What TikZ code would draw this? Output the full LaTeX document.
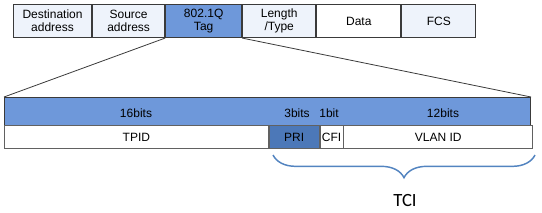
\documentclass[tikz,border=0pt]{standalone}
\usepackage{fontspec}
\setmainfont{Liberation Sans}
\newfontfamily\tcifont{Carlito}
\usetikzlibrary{positioning}
\usetikzlibrary{decorations.pathreplacing}
\definecolor{paleblue}{HTML}{EEF3FB}
\definecolor{tagblue}{HTML}{6E98DA}
\definecolor{pridark}{HTML}{4C78B8}
\definecolor{bracecol}{HTML}{5384C0}
\definecolor{edgegray}{HTML}{3A3A3A}

\tikzset{
  field/.style={draw=edgegray, line width=0.8pt, minimum height=24.75pt, inner sep=0pt,
    align=center, font=\fontsize{9}{10}\selectfont},
  subfield/.style={draw=edgegray!80, line width=0.6pt, minimum height=17.25pt, inner sep=0pt,
    font=\fontsize{9}{10}\selectfont},
  bitlabel/.style={font=\fontsize{9}{10}\selectfont, inner sep=0pt}
}

\begin{document}
\begin{tikzpicture}[x=0.75pt, y=-0.75pt]
    \useasboundingbox (0,0) rectangle (542,212);

    % frame fields
    \node[field, fill=paleblue, minimum width=58.5pt, anchor=north west] (dst) at (13,4) {Destination\\address};
    \node[field, fill=paleblue, minimum width=54pt, right=0pt of dst] (src) {Source\\address};
    \node[field, fill=tagblue, minimum width=57pt, right=0pt of src] (tag) {802.1Q\\Tag};
    \node[field, fill=paleblue, minimum width=54.75pt, right=0pt of tag] (len) {Length\\/Type};
    \node[field, fill=white, minimum width=63pt, right=0pt of len] (data) {Data};
    \node[field, fill=paleblue, minimum width=55.5pt, right=0pt of data] (fcs) {FCS};

    % tag expanded
    \node[draw=edgegray, line width=0.8pt, fill=tagblue, minimum width=394.5pt, minimum height=21pt,
      inner sep=0pt, anchor=north west] (band) at (4,97) {};
    \node[subfield, fill=white, minimum width=198pt, anchor=north west] (tpid) at (4,125) {TPID};
    \node[subfield, fill=pridark, minimum width=37.5pt, right=0pt of tpid] (pri) {PRI};
    \node[subfield, fill=white, minimum width=17.25pt, right=0pt of pri] (cfi) {CFI};
    \node[subfield, fill=white, minimum width=141.75pt, right=0pt of cfi] (vlan) {VLAN ID};

    \node[bitlabel] (b16) at (136,113) {16bits};
    \node[bitlabel] (b3) at (297,113) {3bits};
    \node[bitlabel] (b1) at (329,113) {1bit};
    \node[bitlabel] (b12) at (443,113) {12bits};

    \draw[edgegray, line width=0.6pt] (tag.south west) -- (band.north west);
    \draw[edgegray, line width=0.6pt] (tag.south east) -- (band.north east);

    % TCI brace
    \coordinate (bl) at (273,155);
    \coordinate (br) at (535,155);
    \draw[bracecol, line width=1.1pt, decorate, decoration={brace, mirror, amplitude=17pt}] (bl) -- (br);
    \node[font=\tcifont\fontsize{14}{15}\selectfont, inner sep=0pt] (tci) at (405,200) {TCI};
\end{tikzpicture}
\end{document}
